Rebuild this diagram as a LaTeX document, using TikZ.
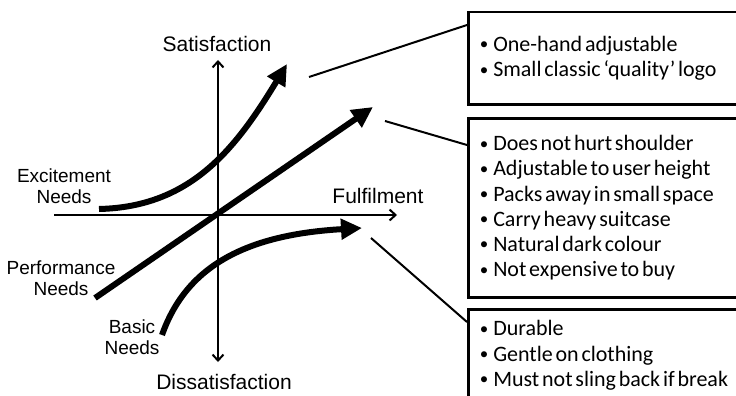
\documentclass[tikz,border=0pt]{standalone}
\usepackage{fontspec}
\setmainfont{Liberation Sans}
\newfontfamily\boxfont{Carlito}
\usetikzlibrary{arrows.meta,calc}
\newcommand\bul{\spaceskip 2.8pt plus 1pt\relax
  \makebox[13.5pt][l]{\raisebox{1.5pt}{\fontsize{17}{17}\selectfont•}}}
\newcommand\listfont{\boxfont\fontsize{22}{25.2}\selectfont}
\begin{document}
\begin{tikzpicture}[x=1pt,y=-1pt,
  axis/.style={line width=2pt},
  axtip/.style={-{Straight Barb[length=6pt,width=11pt]}},
  need/.style={line width=6pt,-{Triangle[length=21pt,width=20pt]}},
  link/.style={line width=2pt},
  axlabel/.style={font=\fontsize{21}{25}\selectfont,inner sep=0pt,anchor=base},
  needlabel/.style={font=\fontsize{19}{21.5}\selectfont,inner sep=0pt,align=center},
  listbox/.style={draw,line width=2.5pt,anchor=north west,minimum width=340pt,
    text width=317pt,inner xsep=11.5pt,inner ysep=0pt,align=left,font=\listfont}]
\clip (0,0) rectangle (736,396);

% axes
\coordinate (xs) at (54,215);
\coordinate (xe) at (397,215);
\coordinate (ys) at (218,362);
\coordinate (ye) at (218,60);
\draw[axis,axtip] (xs) -- (xe);
\draw[axis,{Straight Barb[length=6pt,width=11pt]}-{Straight Barb[length=6pt,width=11pt]}] (ys) -- (ye);

% axis labels
\node[axlabel] (sat) at (217,52) {Satisfaction};
\node[axlabel] (dis) at (224,389) {Dissatisfaction};
\node[axlabel] (ful) at (378,203) {Fulfilment};

% need labels
\node[needlabel] (exc) at (64,186) {Excitement\\Needs};
\node[needlabel] (perf) at (61,278) {Performance\\Needs};
\node[needlabel] (basic) at (132,337) {Basic\\Needs};

% need curves
\coordinate (e0) at (99,209);
\coordinate (e1) at (287,64);
\coordinate (p0) at (95,298);
\coordinate (p1) at (373,107);
\coordinate (b0) at (162,335);
\coordinate (b1) at (362,228);
\draw[need] (e0) .. controls (190,207) and (235,150) .. (e1);
\draw[need] (p0) -- (p1);
\draw[need] (b0) .. controls (185,270) and (240,235) .. (b1);

% requirement boxes
\node[listbox,minimum height=92pt] (box1) at (467,11)
  {\bul One-hand adjustable\\\bul Small classic ‘quality’ logo};
\node[listbox,minimum height=179pt] (box2) at (467,117)
  {\bul Does not hurt shoulder\\\bul Adjustable to user height\\\bul Packs away in small space\\\bul Carry heavy suitcase\\\bul Natural dark colour\\\bul Not expensive to buy};
\node[listbox,minimum height=92pt] (box3) at (467,308)
  {\bul Durable\\\bul Gentle on clothing\\\bul Must not sling back if break};

% links from curves to boxes
\coordinate (l1) at (309,77);
\coordinate (l2) at (385,121);
\coordinate (l3) at (371,238);
\draw[link] (l1) -- ($(box1.north west)+(0,14)$);
\draw[link] (l2) -- ($(box2.north west)+(0,28)$);
\draw[link] (l3) -- ($(box3.north west)+(0,14)$);
\end{tikzpicture}
\end{document}
